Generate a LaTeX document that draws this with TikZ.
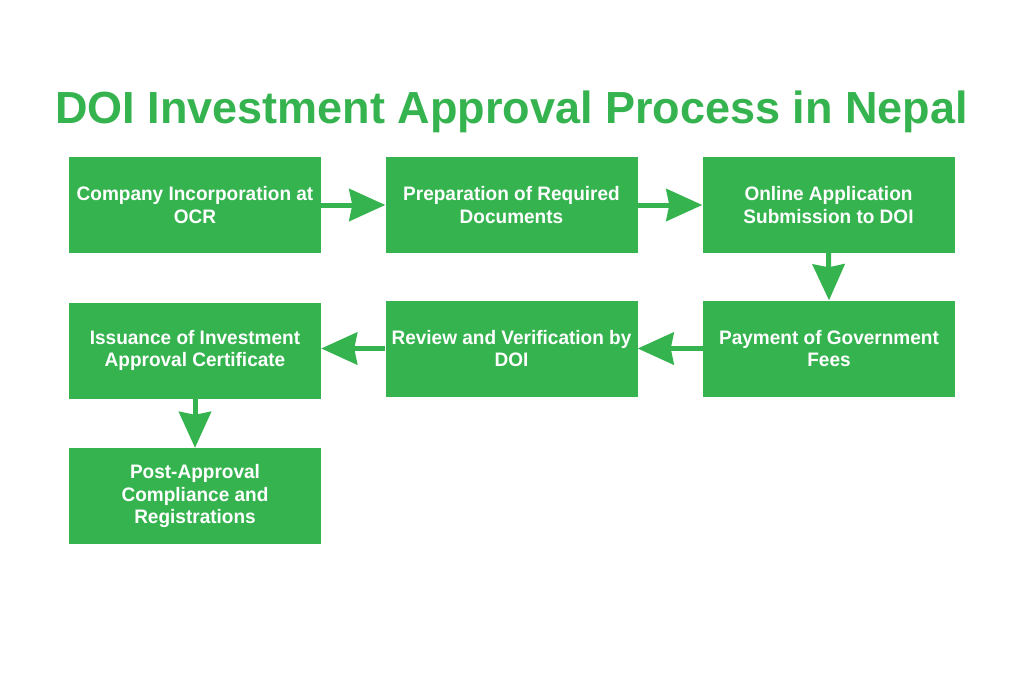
\documentclass[tikz,border=0pt]{standalone}
\usepackage{fontspec}
\setmainfont[FakeStretch=0.975]{Liberation Sans}
\newfontfamily\titlefont{Liberation Sans}
\usetikzlibrary{arrows.meta}
\definecolor{brandgreen}{HTML}{35B34F}
\tikzset{
  procbox/.style={rectangle, fill=brandgreen, text=white, align=center,
    minimum width=252pt, minimum height=96pt, inner sep=0pt,
    font=\fontsize{19.5}{22.5}\selectfont\bfseries},
  flowarrow/.style={draw=brandgreen, line width=5pt,
    -{Stealth[length=36pt, width=32pt, inset=3pt, fill=brandgreen]}},
}
\begin{document}
\begin{tikzpicture}[x=1pt, y=-1pt]
\useasboundingbox (0,0) rectangle (1024,683);
\fill[white] (0,0) rectangle (1024,683);
\node[text=brandgreen, font=\titlefont\fontsize{45}{50}\selectfont\bfseries, anchor=base] (title) at (511.5,123.5) {DOI Investment Approval Process in Nepal};
\node[procbox] (b1) at (195,205) {Company Incorporation at\\OCR};
\node[procbox] (b2) at (511.5,205) {Preparation of Required\\Documents};
\node[procbox] (b3) at (828.5,205) {Online Application\\Submission to DOI};
\node[procbox] (b6) at (829,348.5) {Payment of Government\\Fees};
\node[procbox] (b5) at (511.5,348.5) {Review and Verification by\\DOI};
\node[procbox] (b4) at (195,350.5) {Issuance of Investment\\Approval Certificate};
\node[procbox] (b7) at (195,496) {Post-Approval\\Compliance and\\Registrations};
\draw[flowarrow] (b1.east) -- (b2.west);
\draw[flowarrow] (b2.east) -- (b3.west);
\draw[flowarrow] (b3.south) -- (b6.north);
\draw[flowarrow] (b6.west) -- (b5.east);
\draw[flowarrow] (b5.west) -- (b4.east |- b5.west);
\draw[flowarrow] (b4.south) -- (b7.north);
\end{tikzpicture}
\end{document}
